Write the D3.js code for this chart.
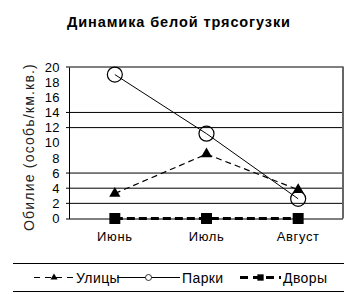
<!DOCTYPE html>
<html>
<head>
<meta charset="utf-8">
<script src="https://cdn.jsdelivr.net/npm/d3@7"></script>
<style>
  body { margin: 0; background: #fff; }
  text { font-family: "Liberation Sans", Arial, sans-serif; }
</style>
</head>
<body>
<script>
const months = ['Июнь', 'Июль', 'Август']
const streets = [3.3, 8.5, 3.8]
const parks = [19, 11.2, 2.6]
const yards = [0, 0, 0]
const yTicks = [0, 2, 4, 6, 8, 10, 12, 14, 16, 18, 20]
const gridValues = [2, 4, 6, 12, 14, 20]

const svg = d3.select('body').append('svg')
  .attr('width', 350)
  .attr('height', 294)

svg.append('text')
  .attr('x', 179).attr('y', 27)
  .attr('text-anchor', 'middle')
  .style('font-size', '14.5px')
  .style('font-weight', 'bold')
  .style('letter-spacing', '0.9px')
  .text('Динамика белой трясогузки')

const x = d3.scaleBand().domain(months).range([69, 344])
const y = d3.scaleLinear().domain([0, 20]).range([218.5, 67])
const cx = d => x(d) + x.bandwidth() / 2

// gridlines
svg.append('g')
  .selectAll('line')
  .data(gridValues)
  .enter()
  .append('line')
    .attr('x1', 66).attr('x2', 343)
    .attr('y1', d => y(d)).attr('y2', d => y(d))
    .attr('stroke', '#000')
    .attr('stroke-width', 1)

// right border
svg.append('line')
  .attr('x1', 343).attr('x2', 343)
  .attr('y1', y(20) - 0.5).attr('y2', y(0))
  .attr('stroke', '#666')
  .attr('stroke-width', 2)

const yAxis = svg.append('g')
  .attr('transform', 'translate(69,0)')
  .call(d3.axisLeft(y).tickValues(yTicks).tickSize(0).tickPadding(9))
yAxis.select('.domain').attr('stroke', '#000')
yAxis.selectAll('text').style('font-size', '13px').style('letter-spacing', '0.4px').attr('fill', '#000')

const xAxis = svg.append('g')
  .attr('transform', `translate(0,${y(0)})`)
  .call(d3.axisBottom(x).tickSize(0).tickPadding(13))
xAxis.select('.domain').attr('d', `M66,0.5H343`).attr('stroke', '#000')
xAxis.selectAll('text').style('font-size', '13px').style('letter-spacing', '0.6px').attr('fill', '#000')

svg.append('text')
  .attr('transform', 'translate(34,147) rotate(-90)')
  .attr('text-anchor', 'middle')
  .style('font-size', '14px')
  .style('letter-spacing', '1.2px')
  .attr('fill', '#222')
  .text('Обилие (особь/км.кв.)')

const line = vals => d3.line()
  .x((d, i) => cx(months[i]))
  .y(d => y(d))(vals)

svg.append('path').attr('d', line(streets))
  .attr('fill', 'none').attr('stroke', '#000')
  .attr('stroke-width', 1.2).attr('stroke-dasharray', '6,4')
svg.append('path').attr('d', line(parks))
  .attr('fill', 'none').attr('stroke', '#000').attr('stroke-width', 1)
svg.append('path').attr('d', line(yards))
  .attr('fill', 'none').attr('stroke', '#000')
  .attr('stroke-width', 3).attr('stroke-dasharray', '8,4')

const tri = d3.symbol().type(d3.symbolTriangle).size(55)
const sq = d3.symbol().type(d3.symbolSquare).size(120)

svg.append('g').selectAll('path')
  .data(streets).enter().append('path')
    .attr('d', tri)
    .attr('transform', (d, i) => `translate(${cx(months[i])},${y(d)})`)
    .attr('fill', '#000')

svg.append('g').selectAll('circle')
  .data(parks).enter().append('circle')
    .attr('cx', (d, i) => cx(months[i]))
    .attr('cy', d => y(d))
    .attr('r', 7.5)
    .attr('fill', 'none')
    .attr('stroke', '#000').attr('stroke-width', 1.2)

svg.append('g').selectAll('path')
  .data(yards).enter().append('path')
    .attr('d', sq)
    .attr('transform', (d, i) => `translate(${cx(months[i])},${y(d)})`)
    .attr('fill', '#000')

// legend
const legend = svg.append('g')
legend.append('line').attr('x1', 13).attr('x2', 344).attr('y1', 263.5).attr('y2', 263.5).attr('stroke', '#000')
legend.append('line').attr('x1', 13).attr('x2', 344).attr('y1', 291.5).attr('y2', 291.5).attr('stroke', '#000')

const ly = 277.5
const items = [
  { name: 'Улицы', x0: 34, x1: 74, dash: '6,5', w: 1.2, mark: 'tri' },
  { name: 'Парки', x0: 117, x1: 180, dash: null, w: 1, mark: 'circle' },
  { name: 'Дворы', x0: 240, x1: 281, dash: '8,5', w: 3, mark: 'sq' }
]
items.forEach(it => {
  legend.append('line')
    .attr('x1', it.x0).attr('x2', it.x1).attr('y1', ly).attr('y2', ly)
    .attr('stroke', '#000').attr('stroke-width', it.w)
    .attr('stroke-dasharray', it.dash)
  const mx = (it.x0 + it.x1) / 2
  if (it.mark === 'tri') {
    legend.append('path').attr('d', d3.symbol().type(d3.symbolTriangle).size(22))
      .attr('transform', `translate(${mx},${ly})`).attr('fill', '#000')
  } else if (it.mark === 'circle') {
    legend.append('circle').attr('cx', mx).attr('cy', ly).attr('r', 3)
      .attr('fill', '#fff').attr('stroke', '#000').attr('stroke-width', 0.8)
  } else {
    legend.append('path').attr('d', d3.symbol().type(d3.symbolSquare).size(40))
      .attr('transform', `translate(${mx},${ly})`).attr('fill', '#000')
  }
  legend.append('text')
    .attr('x', it.x1 + 2).attr('y', ly + 5)
    .style('font-size', '14px')
    .style('letter-spacing', '0.4px')
    .text(it.name)
})
</script>
</body>
</html>
